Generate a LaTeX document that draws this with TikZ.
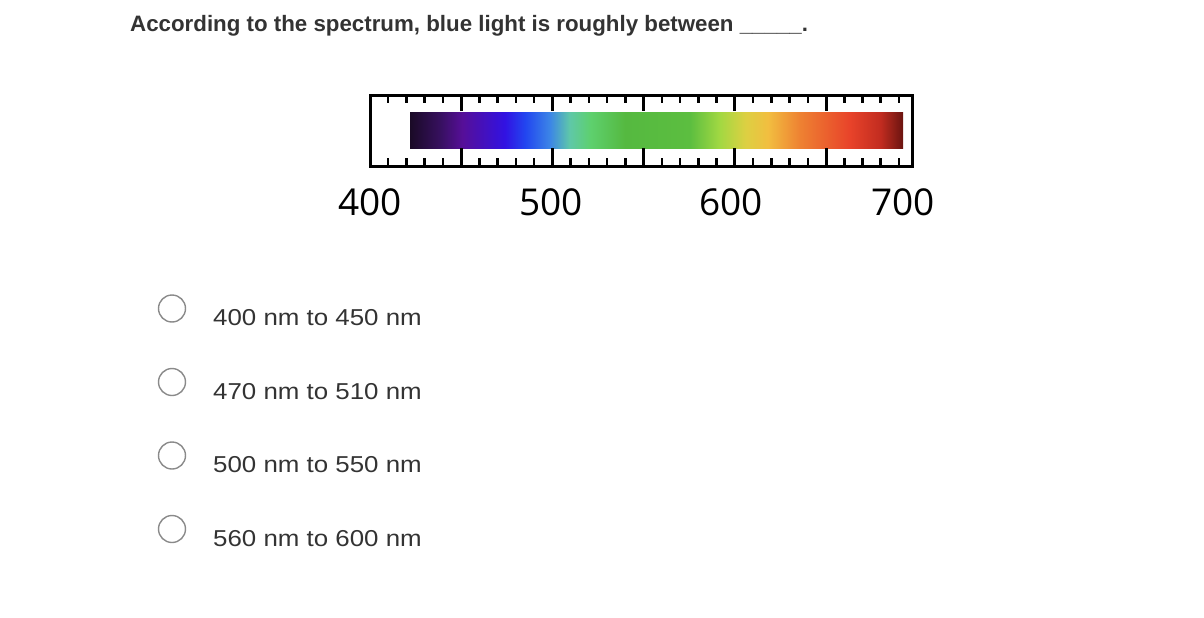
\documentclass[tikz,border=0pt]{standalone}
\usepackage{fontspec}
\setmainfont{Liberation Sans}
\newfontfamily\titlefont{Liberation Sans}
\newfontfamily\optfont[FakeStretch=1.125]{Liberation Sans}
\newfontfamily\scalefont{Open Sans}
\usetikzlibrary{positioning,calc}

% Colours
\definecolor{textgray}{HTML}{333333}
\definecolor{radiogray}{HTML}{8A8A8A}
\definecolor{sp0}{HTML}{1A0A26}
\definecolor{sp1}{HTML}{36105E}
\definecolor{sp2}{HTML}{560F98}
\definecolor{sp3}{HTML}{3212E2}
\definecolor{sp4}{HTML}{2246F0}
\definecolor{sp5}{HTML}{3C86E6}
\definecolor{sp6}{HTML}{5FC8A8}
\definecolor{sp7}{HTML}{5ED06E}
\definecolor{sp8}{HTML}{55B940}
\definecolor{sp9}{HTML}{5CBE40}
\definecolor{sp10}{HTML}{A2D842}
\definecolor{sp11}{HTML}{DCD042}
\definecolor{sp12}{HTML}{F2BE40}
\definecolor{sp13}{HTML}{EE8232}
\definecolor{sp14}{HTML}{E8432A}
\definecolor{sp15}{HTML}{C22C20}
\definecolor{sp16}{HTML}{6A1410}

\pgfdeclarehorizontalshading{visible}{100bp}{%
  color(0bp)=(sp0); color(25bp)=(sp0); color(28bp)=(sp1); color(30.3bp)=(sp2);
  color(34.6bp)=(sp3); color(36.7bp)=(sp4); color(39.2bp)=(sp5); color(41.2bp)=(sp6);
  color(43.3bp)=(sp7); color(46.8bp)=(sp8); color(53.4bp)=(sp9); color(56.4bp)=(sp10);
  color(59bp)=(sp11); color(61.3bp)=(sp12); color(64.5bp)=(sp13); color(69.6bp)=(sp14);
  color(72.7bp)=(sp15); color(75bp)=(sp16); color(100bp)=(sp16)}

\begin{document}
\begin{tikzpicture}[x=1pt, y={(0pt,-1pt)},
    question/.style={anchor=base west, inner sep=0pt, text=textgray, font=\titlefont\bfseries\fontsize{22.3}{27}\selectfont},
    answer/.style={anchor=base west, inner sep=0pt, text=textgray, font=\optfont\fontsize{23}{27}\selectfont},
    radio/.style={circle, draw=radiogray, line width=1.4pt, minimum size=27pt, inner sep=0pt},
    scalelabel/.style={anchor=base, inner sep=0pt, text=black, font=\scalefont\fontsize{37}{44}\selectfont}]
        \useasboundingbox (0,0) rectangle (1204,618);

        % Define ruler dimensions
        \def\rl{370}
        \def\rr{912}
        \def\rt{95}
        \def\rb{166}
        \def\tick{18.24}

        % Question
        \node[question] (question) at (130,31.5) {According to the spectrum, blue light is roughly between \_\_\_\_\_.};

        % Draw spectrum
        \shade[shading=visible] (410,112) rectangle (903,148);

        % Draw ruler frame
        \draw[line width=3pt] (\rl,\rt) rectangle (\rr,\rb);

        % Draw ticks
        \foreach \i in {1,...,29} {
            \pgfmathsetmacro{\tx}{\rl+\i*\tick}
            \pgfmathtruncatemacro{\major}{mod(\i,5)==0}
            \ifnum\major=1
                \draw[line width=3pt] (\tx,\rt) -- (\tx,111);
                \draw[line width=3pt] (\tx,148) -- (\tx,\rb);
            \else
                \draw[line width=2.5pt] (\tx,\rt) -- (\tx,103);
                \draw[line width=2.5pt] (\tx,158) -- (\tx,\rb);
            \fi
        }

        % Label ruler
        \node[scalelabel] (lbl400) at (370,215) {400};
        \node[scalelabel] (lbl500) at (551,215) {500};
        \node[scalelabel] (lbl600) at (731,215) {600};
        \node[scalelabel] (lbl700) at (903,215) {700};

        % Draw answers
        \foreach \y/\txt [count=\k] in {308.5/400 nm to 450 nm, 382/470 nm to 510 nm, 455.5/500 nm to 550 nm, 529/560 nm to 600 nm} {
            \node[radio] (radio\k) at (172,\y) {};
            \node[answer] (opt\k) at (213,\y+17) {\txt};
        }
      \end{tikzpicture}
\end{document}
